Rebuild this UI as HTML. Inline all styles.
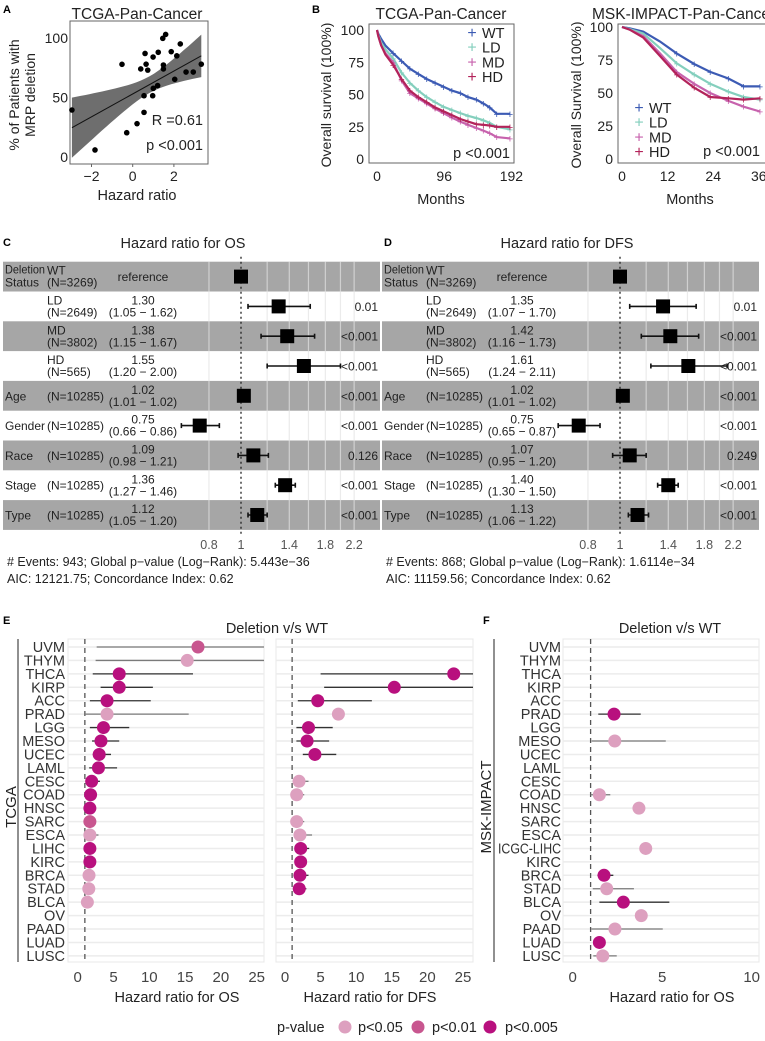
<!DOCTYPE html>
<html><head><meta charset="utf-8"><style>
html,body{margin:0;padding:0;background:#fff;overflow:hidden;width:765px;height:1041px}
svg{display:block;font-family:"Liberation Sans",Arial,sans-serif}
</style></head><body>
<svg id="fig" width="765" height="1041" viewBox="0 0 765 1041" xmlns="http://www.w3.org/2000/svg">
<text x="3" y="13" font-size="11" font-weight="bold">A</text>
<text x="312" y="13" font-size="11" font-weight="bold">B</text>
<text x="3" y="246" font-size="11" font-weight="bold">C</text>
<text x="384" y="246" font-size="11" font-weight="bold">D</text>
<text x="3" y="624" font-size="11" font-weight="bold">E</text>
<text x="483" y="624" font-size="11" font-weight="bold">F</text>

<g id="panelA">
<text x="137" y="19" font-size="15.5" text-anchor="middle" fill="#222">TCGA-Pan-Cancer</text>
<rect x="70" y="21" width="138" height="143" fill="#fff" stroke="#666" stroke-width="1"/>
<text transform="translate(19,95) rotate(-90)" font-size="14" text-anchor="middle" fill="#222">% of Patients with</text>
<text transform="translate(35,95) rotate(-90)" font-size="14" text-anchor="middle" fill="#222">MRP deletion</text>
<text x="137" y="200" font-size="14.5" text-anchor="middle" fill="#222">Hazard ratio</text>
<text x="203" y="125" font-size="14.5" text-anchor="end" fill="#222">R =0.61</text>
<text x="203" y="150" font-size="14.5" text-anchor="end" fill="#222">p &lt;0.001</text>
</g>

<g id="panelB1">
<text x="441" y="19" font-size="15.5" text-anchor="middle" fill="#222">TCGA-Pan-Cancer</text>
<rect x="369" y="24" width="145" height="139" fill="#fff" stroke="#666"/>
<text transform="translate(331,95) rotate(-90)" font-size="14" text-anchor="middle" fill="#222">Overall survival (100%)</text>
<text x="441" y="204" font-size="14.5" text-anchor="middle" fill="#222">Months</text>
<text x="510" y="158" font-size="14.5" text-anchor="end" fill="#222">p &lt;0.001</text>
</g>
<g id="panelB2">
<text x="592" y="19" font-size="15.5" fill="#222">MSK-IMPACT-Pan-Cancer</text>
<rect x="618" y="24" width="150" height="139" fill="#fff" stroke="#666"/>
<text transform="translate(581,95) rotate(-90)" font-size="14" text-anchor="middle" fill="#222">Overall Survival (100%)</text>
<text x="690" y="204" font-size="14.5" text-anchor="middle" fill="#222">Months</text>
<text x="760" y="156" font-size="14.5" text-anchor="end" fill="#222">p &lt;0.001</text>
</g>

<text x="183" y="248" font-size="14.5" text-anchor="middle" fill="#222">Hazard ratio for OS</text>
<text x="567" y="248" font-size="14.5" text-anchor="middle" fill="#222">Hazard ratio for DFS</text>
<text x="7" y="566" font-size="12.5" fill="#222"># Events: 943; Global p−value (Log−Rank): 5.443e−36</text>
<text x="7" y="583" font-size="12.5" fill="#222">AIC: 12121.75; Concordance Index: 0.62</text>
<text x="386" y="566" font-size="12.5" fill="#222"># Events: 868; Global p−value (Log−Rank): 1.6114e−34</text>
<text x="386" y="583" font-size="12.5" fill="#222">AIC: 11159.56; Concordance Index: 0.62</text>

<text x="277" y="633" font-size="14.5" text-anchor="middle" fill="#222">Deletion  v/s WT</text>
<text x="670" y="633" font-size="14.5" text-anchor="middle" fill="#222">Deletion  v/s WT</text>
<line x1="18" y1="639" x2="18" y2="962" stroke="#222"/>
<text transform="translate(16,807) rotate(-90)" font-size="15" text-anchor="middle" fill="#222">TCGA</text>
<line x1="494" y1="639" x2="494" y2="962" stroke="#222"/>
<text transform="translate(491,807) rotate(-90)" font-size="15" text-anchor="middle" fill="#222">MSK-IMPACT</text>
<text x="177" y="1002" font-size="14.5" text-anchor="middle" fill="#222">Hazard ratio for OS</text>
<text x="370" y="1002" font-size="14.5" text-anchor="middle" fill="#222">Hazard ratio for DFS</text>
<text x="672" y="1002" font-size="14.5" text-anchor="middle" fill="#222">Hazard ratio for OS</text>

<g>
<text x="277" y="1032" font-size="14.5" fill="#222">p-value</text>
<circle cx="345" cy="1027" r="6.5" fill="#dda0bf"/>
<text x="358" y="1032" font-size="14.5" fill="#222">p&lt;0.05</text>
<circle cx="418" cy="1027" r="6.5" fill="#c8568f"/>
<text x="432" y="1032" font-size="14.5" fill="#222">p&lt;0.01</text>
<circle cx="490" cy="1027" r="6.5" fill="#b8107e"/>
<text x="505" y="1032" font-size="14.5" fill="#222">p&lt;0.005</text>
</g>
</svg>
<script>
const scatterHR = [-2.95,-1.83,-0.52,-0.29,0.21,0.39,0.55,0.55,0.6,0.65,0.73,0.97,0.99,1.0,1.21,1.24,1.46,1.49,1.49,1.6,1.87,2.04,2.14,2.31,2.59,2.94,3.33];
const scatterPct = [39.5,5.9,77.9,20.4,28,74,51.5,37.5,87,78,73,51.5,84,57.7,60,88,99.7,77.3,74,103,88.5,65.3,85,95,71.4,71.4,78];
const fitX = [-2.95, 3.33];
const fitY = [24.6, 85];
const aXTicks = [-2, 0, 2];
const aYTicks = [0, 50, 100];
const tcgaMonths = [0,2,6,12,23,35,47,59,71,83,95,107,119,130,142,152,161,171,190];
const tcgaWT = [100,97,93,88,82,76,70,66,62,59,56,53,51,48,46,43,40,35,35];
const tcgaLD = [100,96,90,85,78,67,59,53,48,44,40.5,38,35.6,33.5,31.8,30,28,25,23];
const tcgaMD = [100,95,88,82,75,61,51,47,43,39,35.6,32,29,26.5,24,22,20,17,16];
const tcgaHD = [100,95,88,81,73,62,53,48,44,40,37,34,31,29,27,26.5,26,25,25];
const tcgaXTicks = [0,96,192];
const mskMonths = [0,2,5.6,10,14.4,19,23.2,28,32,36.3];
const mskWT = [100,99,96.5,89,80,72,66,61,55,55];
const mskLD = [100,98.5,95,84,72.5,64,57,51,47,45];
const mskMD = [100,98,93,80,66,57,50,44,39.6,36];
const mskHD = [100,98,92,78,64,54,47,46,45,46];
const mskXTicks = [0,12,24,36];
const survYTicks = [0,25,50,75,100];
const groupNames = ['WT','LD','MD','HD'];
const forestVar = ['Deletion|Status','','','','Age','Gender','Race','Stage','Type'];
const forestN = ['WT|(N=3269)','LD|(N=2649)','MD|(N=3802)','HD|(N=565)','(N=10285)','(N=10285)','(N=10285)','(N=10285)','(N=10285)'];
const osHR = [1,1.30,1.38,1.55,1.02,0.75,1.09,1.36,1.12];
const osLo = [null,1.05,1.15,1.20,1.01,0.66,0.98,1.27,1.05];
const osHi = [null,1.62,1.67,2.00,1.02,0.86,1.21,1.46,1.20];
const osP = ['','0.01','<0.001','<0.001','<0.001','<0.001','0.126','<0.001','<0.001'];
const dfsHR = [1,1.35,1.42,1.61,1.02,0.75,1.07,1.40,1.13];
const dfsLo = [null,1.07,1.16,1.24,1.01,0.65,0.95,1.30,1.06];
const dfsHi = [null,1.70,1.73,2.11,1.02,0.87,1.20,1.50,1.22];
const dfsP = ['','0.01','<0.001','<0.001','<0.001','<0.001','0.249','<0.001','<0.001'];
const forestTicks = [0.8,1,1.4,1.8,2.2];
const forestGrid = [0.8,1.2,1.4,1.6,1.8,2.0,2.2];
const tcgaTypes = ['UVM','THYM','THCA','KIRP','ACC','PRAD','LGG','MESO','UCEC','LAML','CESC','COAD','HNSC','SARC','ESCA','LIHC','KIRC','BRCA','STAD','BLCA','OV','PAAD','LUAD','LUSC'];
const eOsHR = [16.8,15.3,5.8,5.8,4.1,4.1,3.6,3.25,3.0,2.9,1.95,1.8,1.7,1.7,1.7,1.7,1.7,1.58,1.55,1.35,null,null,null,null];
const eOsLo = [2.65,2.5,2.1,3.2,1.7,1.0,1.7,2.0,2.1,1.6,1.1,1.1,1.1,1.1,1.05,1.1,1.1,1.1,1.1,1.0,null,null,null,null];
const eOsHi = [30,30,16.1,10.5,10.2,15.5,7.2,5.8,4.65,5.5,3.1,2.6,2.4,2.4,2.9,2.3,2.3,2.2,2.2,1.8,null,null,null,null];
const eOsSig = [2,1,3,3,3,1,3,3,3,3,3,3,3,2,1,3,3,1,1,1,0,0,0,0];
const eDfsHR = [null,null,23.7,15.35,4.6,7.5,3.3,3.1,4.2,null,1.97,1.64,null,1.64,2.1,2.2,2.2,2.1,2.0,null,null,null,null,null];
const eDfsLo = [null,null,5.0,5.5,1.8,7.0,1.6,1.6,2.5,null,1.4,1.3,null,1.3,1.4,1.4,1.5,1.4,1.4,null,null,null,null,null];
const eDfsHi = [null,null,30,26.5,12.2,8.0,6.7,6.2,7.2,null,3.3,2.7,null,2.7,3.8,3.4,3.0,3.3,3.0,null,null,null,null,null];
const eDfsSig = [0,0,3,3,3,1,3,3,3,0,1,1,0,1,1,3,3,3,3,0,0,0,0,0];
const mskTypes = ['UVM','THYM','THCA','KIRP','ACC','PRAD','LGG','MESO','UCEC','LAML','CESC','COAD','HNSC','SARC','ESCA','ICGC-LIHC','KIRC','BRCA','STAD','BLCA','OV','PAAD','LUAD','LUSC'];
const fOsHR = [null,null,null,null,null,2.31,null,2.35,null,null,null,1.49,3.7,null,null,4.08,null,1.75,1.9,2.83,3.83,2.36,1.49,1.68];
const fOsLo = [null,null,null,null,null,1.43,null,1.06,null,null,null,1.0,null,null,null,null,null,1.38,1.12,1.49,null,1.05,null,1.15];
const fOsHi = [null,null,null,null,null,3.8,null,5.2,null,null,null,2.1,null,null,null,null,null,2.27,3.42,5.4,null,5.03,null,2.46];
const fOsSig = [0,0,0,0,0,3,0,1,0,0,0,1,1,0,0,1,0,3,1,3,1,1,3,1];
const eXTicks = [0,5,10,15,20,25];
const fXTicks = [0,5,10];

const NS = 'http://www.w3.org/2000/svg';
const svg = document.getElementById('fig');
function mk(tag, attrs, parent){const e=document.createElementNS(NS,tag);for(const k in attrs)e.setAttribute(k,attrs[k]);(parent||svg).appendChild(e);return e;}
function txt(s, attrs, parent){const e=mk('text',attrs,parent);e.textContent=s;return e;}

const xA = v => 132.7 + 20.6*v;
const yA = v => 157 - 1.19*v;
const gA = document.getElementById('panelA');
{
  const xm = 0.8; let up=[], lo=[];
  for(let k=0;k<=30;k++){
    const v = fitX[0] + (fitX[1]-fitX[0])*k/30;
    const yv = fitY[0] + (fitY[1]-fitY[0])*(v-fitX[0])/(fitX[1]-fitX[0]);
    const se = Math.sqrt(49 + 42*(v-xm)*(v-xm));
    up.push(xA(v).toFixed(1)+','+Math.max(21,yA(yv+se)).toFixed(1));
    lo.push(xA(v).toFixed(1)+','+Math.min(164,yA(yv-se)).toFixed(1));
  }
  const band = mk('polygon',{points:up.concat(lo.reverse()).join(' '),fill:'#6e6e6e'},gA);
  
  
}
const fit = mk('line',{x1:xA(fitX[0]),y1:yA(fitY[0]),x2:xA(fitX[1]),y2:yA(fitY[1]),stroke:'#111','stroke-width':1},gA);


scatterHR.forEach((h,i)=>{
  const c = mk('circle',{cx:xA(h),cy:yA(scatterPct[i]),r:2.8,fill:'#000'},gA);
  
  
});
aXTicks.forEach(t=>{
  const l = mk('line',{x1:xA(t),y1:164,x2:xA(t),y2:167,stroke:'#666'},gA);
  
  
  const tl = txt(t<0?'−'+Math.abs(t):String(t),{x:xA(t),y:181,'font-size':14,'text-anchor':'middle',fill:'#222'},gA);
  
  
});
aYTicks.forEach(t=>{
  const tl = txt(String(t),{x:68,y:yA(t)+5,'font-size':14,'text-anchor':'end',fill:'#222'},gA);
  
  
});

const colors = ['#3c5bb4','#84cfbd','#c762ad','#b3235a'];
function survival(gid, months, series, xs, ys, xticks, xmin, legendX, legendY){
  const g = document.getElementById(gid);
  series.forEach((s,si)=>{
    const pl = mk('polyline',{points:months.map((m,i)=>xs(m).toFixed(1)+','+ys(s[i]).toFixed(1)).join(' '),fill:'none',stroke:colors[si],'stroke-width':2.2},g);
    
    
    months.forEach((m,i)=>{ if(i<4) return;
      const cm = txt('+',{x:xs(m),y:ys(s[i])+4,'font-size':11,'text-anchor':'middle',fill:colors[si]},g);
      
      
    });
  });
  survYTicks.forEach(t=>{
    const tl = txt(String(t),{x:xmin-5,y:ys(t)+5,'font-size':14,'text-anchor':'end',fill:'#222'},g);
    
    
  });
  xticks.forEach(t=>{
    const tl = txt(String(t),{x:xs(t),y:181,'font-size':14,'text-anchor':'middle',fill:'#222'},g);
    
    
  });
  groupNames.forEach((n,i)=>{
    const p = txt('+',{x:legendX,y:legendY+i*14.7+5,'font-size':16,'text-anchor':'middle',fill:colors[i]},g);
    
    
    const l = txt(n,{x:legendX+10,y:legendY+i*14.7+5,'font-size':14.5,fill:'#222'},g);
    
    
  });
}
survival('panelB1', tcgaMonths, [tcgaWT,tcgaLD,tcgaMD,tcgaHD], t=>377+0.70*t, s=>159-1.29*s, tcgaXTicks, 369, 472, 33);
survival('panelB2', mskMonths, [mskWT,mskLD,mskMD,mskHD], t=>622+3.8*t, s=>159-1.32*s, mskXTicks, 618, 639, 108);

function forest(off, HR, LO, HI, P, label){
  const g = mk('g',{});
  
  
  const xf = h => 241 + off + 143.5*Math.log(h);
  const top = 261.7, rh = 29.8;
  for(let i=0;i<9;i++){
    if(i%2===0){
      const r = mk('rect',{x:3+off,y:top+i*rh,width:377,height:rh,fill:'#a6a6a6'},g);
      
      
    }
  }
  forestGrid.forEach(v=>{
    const l = mk('line',{x1:xf(v),y1:top,x2:xf(v),y2:top+9*rh,stroke:'#e3e3e3','stroke-opacity':0.7,'stroke-width':1.2},g);
    
    
  });
  const ref = mk('line',{x1:xf(1),y1:top-5,x2:xf(1),y2:top+9*rh+6,stroke:'#222','stroke-dasharray':'2,3','stroke-width':1.3},g);
  
  
  const fs = 12;
  for(let i=0;i<9;i++){
    const y0 = top+i*rh, yc = y0+rh/2;
    const v = forestVar[i].split('|');
    if(v.length===2){
      const a=txt(v[0],{x:5+off,y:y0+12,'font-size':fs,fill:'#222',textLength:40,lengthAdjust:'spacingAndGlyphs'},g);
      
      
      const b=txt(v[1],{x:5+off,y:y0+25,'font-size':fs,fill:'#222'},g);
      
      
    } else if(v[0]){
      const attrs = {x:5+off,y:yc+4.5,'font-size':fs,fill:'#222'};
      if(v[0]==='Gender'){attrs.textLength=40;attrs.lengthAdjust='spacingAndGlyphs';}
      const a=txt(v[0],attrs,g);
      
      
    }
    const n = forestN[i].split('|');
    if(n.length===2){
      const a=txt(n[0],{x:47+off,y:y0+13,'font-size':fs,fill:'#222'},g);
      
      
      const b=txt(n[1],{x:47+off,y:y0+25,'font-size':fs,fill:'#222'},g);
      
      
    } else {
      const a=txt(n[0],{x:47+off,y:yc+4.5,'font-size':fs,fill:'#222'},g);
      
      
    }
    if(LO[i]===null){
      const a=txt('reference',{x:143+off,y:yc+4.5,'font-size':fs,'text-anchor':'middle',fill:'#222'},g);
      
      
    } else {
      const a=txt(HR[i].toFixed(2),{x:143+off,y:y0+13,'font-size':fs,'text-anchor':'middle',fill:'#222'},g);
      
      
      const b=txt('('+LO[i].toFixed(2)+' − '+HI[i].toFixed(2)+')',{x:143+off,y:y0+25,'font-size':fs,'text-anchor':'middle',fill:'#222'},g);
      
      
      const w = mk('line',{x1:xf(LO[i]),y1:yc,x2:xf(HI[i]),y2:yc,stroke:'#111','stroke-width':1.6},g);
      
      
      [LO[i],HI[i]].forEach(e=>{
        const c = mk('line',{x1:xf(e),y1:yc-2.5,x2:xf(e),y2:yc+2.5,stroke:'#111','stroke-width':1.6},g);
        
        
      });
    }
    const bx = mk('rect',{x:xf(HR[i])-7,y:yc-7,width:14,height:14,fill:'#000'},g);
    
    
    if(P[i]){
      const p = txt(P[i],{x:378+off,y:yc+4.5,'font-size':fs,'text-anchor':'end',fill:'#222'},g);
      
      
    }
  }
  forestTicks.forEach(t=>{
    const tl = txt(String(t),{x:xf(t),y:549,'font-size':12.5,'text-anchor':'middle',fill:'#555'},g);
    
    
  });
}
forest(0, osHR, osLo, osHi, osP, 'os');
forest(379, dfsHR, dfsLo, dfsHi, dfsP, 'dfs');

const sigColor = ['none','#dda0bf','#c8568f','#b8107e'];
const rowY = i => 647 + 13.43*i;
function dotPlot(name, x0, x1, zero, unit, HR, LO, HI, SIG, ticks, labels, labelX){
  const g = mk('g',{});
  
  
  const xs = v => Math.max(x0, Math.min(x1, zero + unit*v));
  const bg = mk('rect',{x:x0,y:639,width:x1-x0,height:323,fill:'#fff',stroke:'#e8e8e8'},g);
  
  
  for(let i=0;i<24;i++){
    const l = mk('line',{x1:x0,y1:rowY(i),x2:x1,y2:rowY(i),stroke:'#ececec','stroke-width':1.5},g);
    
    
  }
  const d = mk('line',{x1:xs(1),y1:639,x2:xs(1),y2:962,stroke:'#555','stroke-dasharray':'5,4','stroke-width':1.3},g);
  
  
  if(labels){
    labels.forEach((s,i)=>{
      const attrs = {x:labelX,y:rowY(i)+5,'font-size':14.5,'text-anchor':'end',fill:'#333'};
      if(s.length>6){attrs.textLength=63;attrs.lengthAdjust='spacingAndGlyphs';}
      const t = txt(s,attrs,g);
      
      
    });
  }
  HR.forEach((h,i)=>{
    if(h===null) return;
    if(LO[i]!==null){
      const l = mk('line',{x1:xs(LO[i]),y1:rowY(i),x2:xs(HI[i]),y2:rowY(i),stroke:SIG[i]===3?'#333':'#7a7a7a','stroke-width':1.3},g);
      
      
    }
    const c = mk('circle',{cx:xs(h),cy:rowY(i),r:6.5,fill:sigColor[SIG[i]]},g);
    
    
  });
  ticks.forEach(t=>{
    const tl = txt(String(t),{x:zero+unit*t,y:982,'font-size':15,'text-anchor':'middle',fill:'#444'},g);
    
    
  });
}
dotPlot('tcga-os-dotplot', 68, 264, 77.7, 7.16, eOsHR, eOsLo, eOsHi, eOsSig, eXTicks, tcgaTypes, 65);
dotPlot('tcga-dfs-dotplot', 276, 473, 285, 7.12, eDfsHR, eDfsLo, eDfsHi, eDfsSig, eXTicks, null, 0);
dotPlot('msk-os-dotplot', 563, 759, 572.7, 17.9, fOsHR, fOsLo, fOsHi, fOsSig, fXTicks, mskTypes, 561);
</script>
</body></html>
